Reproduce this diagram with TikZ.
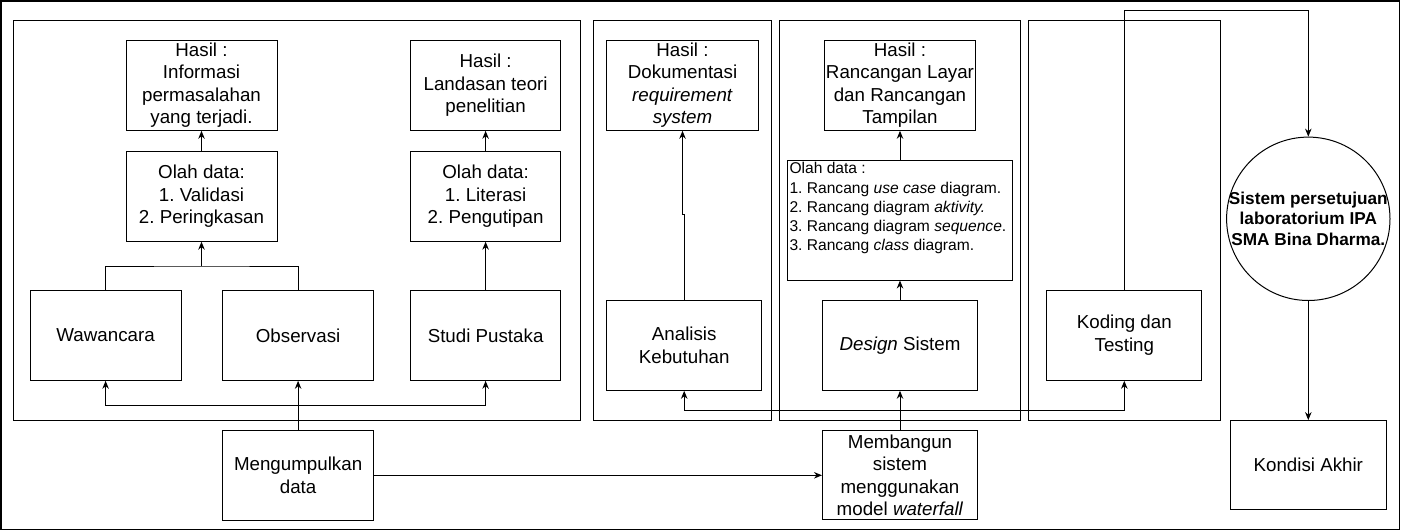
\documentclass[tikz,border=0pt]{standalone}
\usepackage{fontspec}
\setmainfont{Liberation Sans}
\frenchspacing
\usetikzlibrary{arrows.meta,positioning,calc}
\tikzset{
    frame/.style={
        draw=black,
        line width=1.3pt
    },
    panel/.style={
        draw=black,
        line width=1pt
    },
    box/.style={
        draw=black,
        rectangle,
        line width=1pt,
        minimum width=151pt,
        minimum height=90pt,
        inner sep=0pt,
        align=center,
        font=\fontsize{18.75}{22.5}\selectfont
    },
    listbox/.style={
        draw=black,
        rectangle,
        line width=1pt,
        minimum width=225.4pt,
        minimum height=119.5pt,
        inner sep=2pt,
        font=\fontsize{15.6}{19.2}\selectfont
    },
    circ/.style={
        draw=black,
        circle,
        line width=1pt,
        minimum size=163.4pt,
        inner sep=0pt
    },
    circtext/.style={
        align=center,
        inner sep=0pt,
        font=\fontsize{17.2}{20.4}\selectfont\bfseries
    },
    arrow/.style={
        -{Stealth[length=8pt,width=6.5pt]},
        line width=1pt
    },
    link/.style={
        line width=1pt
    }
}

\begin{document}
\begin{tikzpicture}[x=1pt, y=-1pt]
    \useasboundingbox (0,0) rectangle (1401,531);
    % outer frame
    \draw[frame] (1,1) rectangle (1399.5,529.5);

    % phase panels
    \draw[panel] (13,20.5) rectangle (580.5,420);
    \draw[panel] (593.5,20.5) rectangle (771.7,420);
    \draw[panel] (779,20.5) rectangle (1020.7,420);
    \draw[panel] (1028.3,20.5) rectangle (1220.7,420);

    % Pengumpulan data
    \node[box] (hasilA) at (201.5,85.3) {Hasil :\\Informasi\\permasalahan\\yang terjadi.};
    \node[box] (olahA) at (201.5,196.2) {Olah data:\\1. Validasi\\2. Peringkasan};
    \node[box, minimum width=150pt] (hasilB) at (485.6,85.3) {Hasil :\\Landasan teori\\penelitian};
    \node[box, minimum width=150pt] (olahB) at (485.6,196.2) {Olah data:\\1. Literasi\\2. Pengutipan};
    \node[box] (wawancara) at (105.6,335.3) {Wawancara};
    \node[box] (observasi) at (298.1,335.3) {Observasi};
    \node[box, minimum width=150pt] (studi) at (485.6,335.3) {Studi Pustaka};
    \node[box] (kumpul) at (298.1,475.3) {Mengumpulkan\\data};

    % Waterfall
    \node[box, minimum width=151.6pt] (hasilC) at (682.5,85.3) {Hasil :\\Dokumentasi\\\textit{requirement}\\\textit{system}};
    \node[box, minimum width=155pt] (analisis) at (684.2,345.3) {Analisis\\Kebutuhan};
    \node[box, minimum width=150.3pt] (hasilD) at (900,85.3) {Hasil :\\Rancangan Layar\\dan Rancangan\\Tampilan};
    \node[listbox] (olahC) at (900,220.3) {\parbox[c][115.5pt][t]{221pt}{\raggedright
        Olah data :\\
        1. Rancang \textit{use case} diagram.\\
        2. Rancang diagram \textit{aktivity.}\\
        3. Rancang diagram \textit{sequence}.\\
        3. Rancang \textit{class} diagram.}};
    \node[box, minimum width=155pt] (design) at (900,345.3) {\textit{Design} Sistem};
    \node[box, minimum width=155pt, minimum height=89.3pt] (bangun) at (900,475.3) {Membangun\\sistem\\menggunakan\\model \textit{waterfall}};
    \node[box, minimum width=155.3pt] (koding) at (1124.3,335.3) {Koding dan\\Testing};

    % Hasil akhir
    \node[circ] (sistem) at (1308.3,218.8) {};
    \node[circtext] (sistemText) at (sistem.center) {Sistem persetujuan\\laboratorium IPA\\SMA Bina Dharma.};
    \node[box, minimum width=155.4pt, minimum height=89pt] (kondisi) at (1308.3,465.1) {Kondisi Akhir};

    % Arrows
    \coordinate (joinA) at (201.5,266);
    \coordinate (splitA) at (298.1,405);
    \coordinate (splitB) at (900,410.4);
    \coordinate (topR) at (1308.3,10.5);
    \draw[link] (wawancara.north) |- (joinA) -| (observasi.north);
    \draw[arrow] (joinA) -- (olahA.south);
    \draw[arrow] (olahA) -- (hasilA);
    \draw[arrow] (studi) -- (olahB);
    \draw[arrow] (olahB) -- (hasilB);
    \draw[arrow] (kumpul) -- (observasi);
    \draw[arrow] (splitA) -| (wawancara.south);
    \draw[arrow] (splitA) -| (studi.south);
    \draw[arrow] (kumpul) -- (bangun);
    \draw[arrow] (bangun) -- (design);
    \draw[arrow] (splitB) -| (analisis.south);
    \draw[arrow] (splitB) -| (koding.south);
    \draw[arrow] (design) -- (olahC);
    \draw[arrow] (olahC) -- (hasilD);
    \draw[arrow] (analisis.north) -- ++(0,-85) -| (hasilC.south);
    \draw[arrow] (koding.north) |- (topR) -- (sistem.north);
    \draw[arrow] (sistem) -- (kondisi);
\end{tikzpicture}
\end{document}
